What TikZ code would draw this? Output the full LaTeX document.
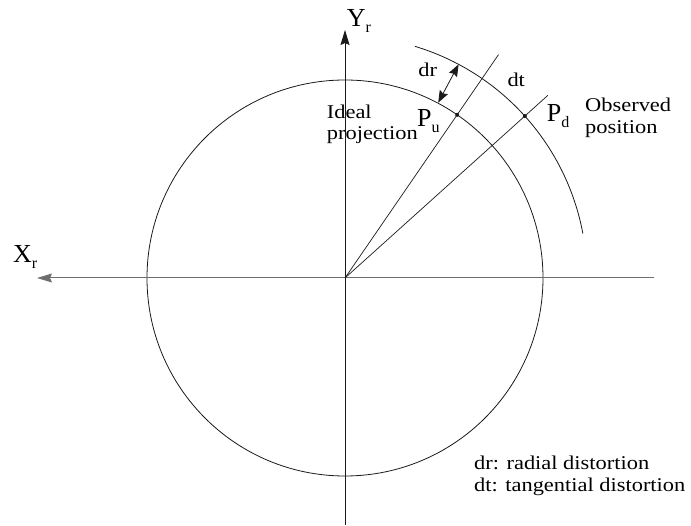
\documentclass[tikz,border=0pt]{standalone}
\usepackage{fontspec}
\setmainfont{Liberation Serif}[FakeStretch=1.15]
\newfontfamily\axisfont{Liberation Serif}
\usepackage{tikz}
\usetikzlibrary{arrows.meta,calc}
\definecolor{Ink}{HTML}{1A1A1A}
\definecolor{AxisGray}{HTML}{6E6E6E}
\newcommand{\lowidx}[1]{\raisebox{-6pt}{\fontsize{16}{16}\selectfont #1}}

\begin{document}
\begin{tikzpicture}[
  x=1pt,
  y=1pt,
  every node/.style={
    font=\fontsize{19.5}{21.7}\selectfont,
    inner sep=0pt,
    align=left
  },
  bigletter/.style={
    font=\axisfont\fontsize{26}{26}\selectfont
  }
]

\useasboundingbox (-345,-248) rectangle (346,278);

\coordinate (o) at (0,0);
\coordinate (xs) at (309,0);
\coordinate (xe) at (-308,0);
\coordinate (ys) at (0,-247);
\coordinate (ye) at (0,248);
\coordinate (pu) at (55.5:198);
\coordinate (pd) at (42:242);
\coordinate (ru) at (55.5:271);
\coordinate (rd) at (42:273);
\coordinate (dri) at (62:198.5);
\coordinate (dro) at (62:242);

% ideal circle and observed arc
\draw[
  Ink,
  line width=.8pt
] (o) circle (198);

\draw[
  Ink,
  line width=.8pt
] (73.2:242) arc (73.2:10.6:242);

% axes
\draw[
  -{Stealth[length=15pt,width=9pt,inset=2pt]},
  AxisGray,
  line width=1pt
] (xs) -- (xe);

\draw[
  -{Stealth[length=15pt,width=9pt,inset=2pt]},
  Ink,
  line width=.8pt
] (ys) -- (ye);

% rays through the two points
\foreach \n in {ru,rd}{
  \draw[
    Ink,
    line width=.7pt
  ] (o) -- (\n);
}

\foreach \n in {pu,pd}{
  \fill[Ink] (\n) circle (2);
}

\draw[
  {Stealth[length=12pt,width=9pt,inset=1.5pt]}-{Stealth[length=12pt,width=9pt,inset=1.5pt]},
  Ink,
  line width=.8pt
] (dri) -- (dro);

% labels
\node[bigletter, anchor=base west] (yr) at (1.7,251.3) {Y\lowidx{r}};
\node[bigletter, anchor=base west] (xr) at (-332,15) {X\lowidx{r}};
\node[bigletter, anchor=base west] (pul) at (72,151) {P\lowidx{u}};
\node[bigletter, anchor=base west] (pdl) at (201.7,156.3) {P\lowidx{d}};

\node[anchor=base west] (drl) at (73.3,201.3) {dr};
\node[anchor=base west] (dtl) at (162.3,191.3) {dt};

\node[anchor=base west] (ideal) at (-18.3,138) {Ideal\\projection};
\node[anchor=base west] (obs) at (240,144.7) {Observed\\position};

\node[anchor=base west] (legend) at (129,-213.7)
{dr: radial distortion\\dt: tangential distortion};

\end{tikzpicture}
\end{document}
